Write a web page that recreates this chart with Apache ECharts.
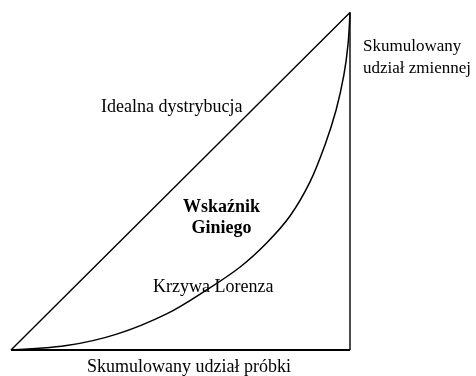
<!DOCTYPE html>
<html>
<head>
<meta charset="utf-8">
<script src="https://cdn.jsdelivr.net/npm/echarts@6/dist/echarts.min.js"></script>
<style>
  html, body { margin: 0; padding: 0; background: #fff; }
  #chart { width: 476px; height: 376px; }
</style>
</head>
<body>
<div id="chart"></div>
<script>
// skumulowany udział próbki (x) i zmiennej (y), w procentach
var equalityLine = [[0, 0], [100, 100]];
var lorenzX = [0, 16.4, 31.2, 45.9, 57.7, 67.6, 75.4, 82.3, 88.2, 92.6, 95.9, 98.2, 99.4, 100];
var lorenzY = [0, 1.3, 4.7, 10.7, 17.8, 24.6, 31.7, 39.7, 49.8, 60.7, 71.1, 81.5, 90.4, 100];
var rightEdge = [[100, 0], [100, 100]];
var bottomEdge = [[0, 0], [100, 0]];

var labelIdeal = 'Idealna dystrybucja';
var labelGini = 'Wskaźnik\nGiniego';
var labelLorenz = 'Krzywa Lorenza';
var labelXAxis = 'Skumulowany udział próbki';
var labelYAxis = 'Skumulowany\nudział zmiennej';

var lorenzData = [];
for (var i = 0; i < lorenzX.length; i++) {
  lorenzData.push([lorenzX[i], lorenzY[i]]);
}

var font = '"Liberation Serif", "Times New Roman", serif';
var chart = echarts.init(document.getElementById('chart'));

var lineStyle = { color: '#000', width: 1.4 };

chart.setOption({
  animation: false,
  grid: { left: 11, right: 126, top: 12.5, bottom: 26 },
  xAxis: { type: 'value', min: 0, max: 100, show: false },
  yAxis: { type: 'value', min: 0, max: 100, show: false },
  series: [
    { type: 'line', data: equalityLine, symbol: 'none', lineStyle: lineStyle },
    { type: 'line', data: rightEdge, symbol: 'none', lineStyle: lineStyle },
    { type: 'line', data: bottomEdge, symbol: 'none', lineStyle: { color: '#000', width: 1.8 } },
    {
      type: 'line', data: lorenzData, symbol: 'none',
      smooth: 0.35,
      lineStyle: { color: '#000', width: 1.5 }
    }
  ],
  graphic: [
    { type: 'text', x: 101, y: 98, style: { text: labelIdeal, font: '18px ' + font, fill: '#000' } },
    { type: 'text', x: 221.5, y: 197, style: { text: labelGini, font: 'bold 18px ' + font, fill: '#000', align: 'center', lineHeight: 21 } },
    { type: 'text', x: 153, y: 278, style: { text: labelLorenz, font: '18px ' + font, fill: '#000' } },
    { type: 'text', x: 87, y: 358, style: { text: labelXAxis, font: '18px ' + font, fill: '#000' } },
    { type: 'text', x: 363, y: 36, style: { text: labelYAxis, font: '17px ' + font, fill: '#000', lineHeight: 22 } }
  ]
});
</script>
</body>
</html>
